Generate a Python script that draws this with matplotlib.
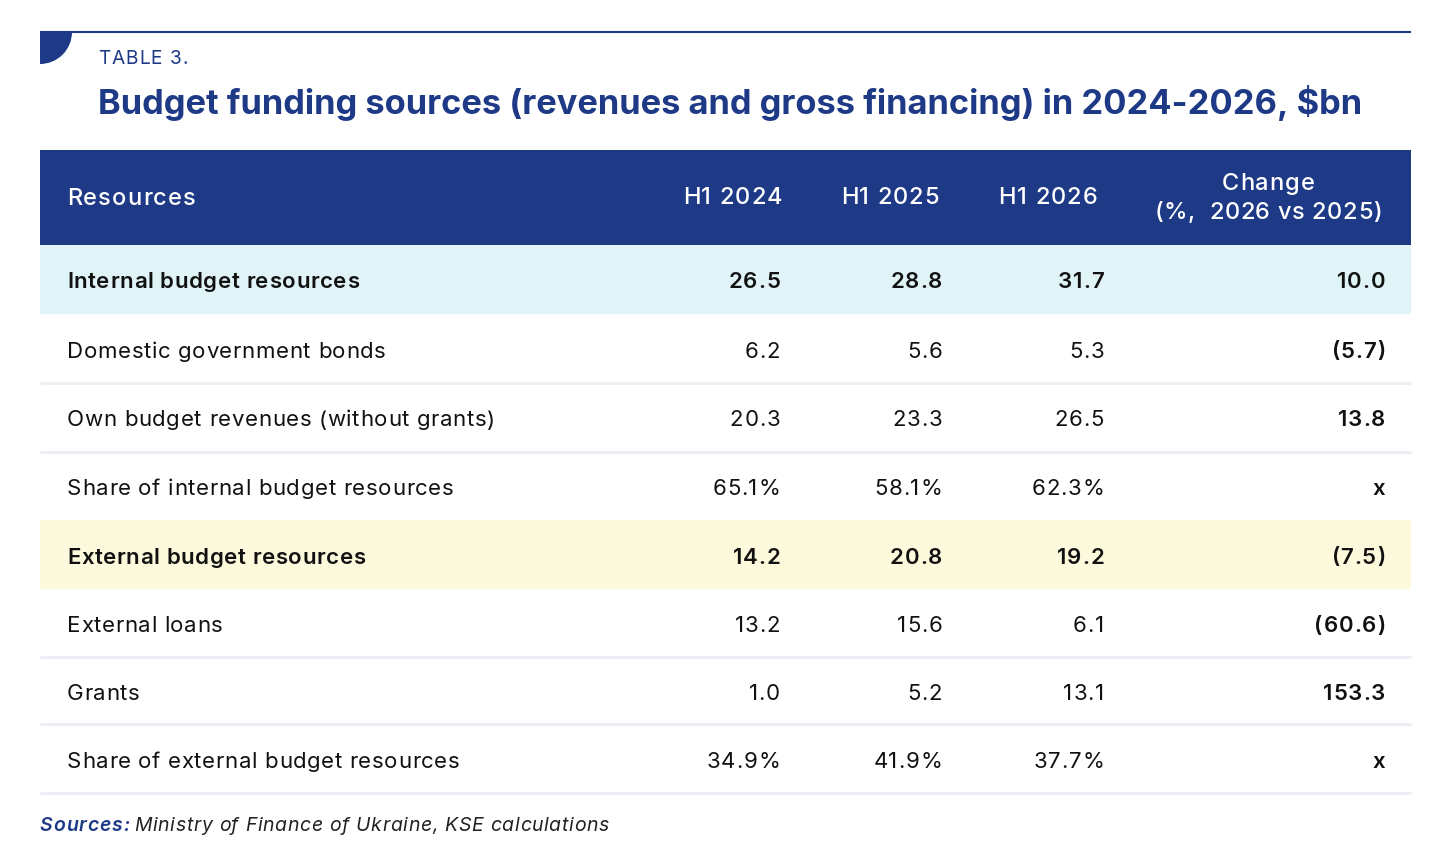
import matplotlib
matplotlib.use("Agg")
import matplotlib.pyplot as plt
from matplotlib.patches import Rectangle, Wedge

# table content
columns = ["H1 2024", "H1 2025", "H1 2026"]
change_header = ["Change", "(%,  2026 vs 2025)"]
row_labels = [
    "Internal budget resources",
    "Domestic government bonds",
    "Own budget revenues (without grants)",
    "Share of internal budget resources",
    "External budget resources",
    "External loans",
    "Grants",
    "Share of external budget resources",
]
h1_2024 = ["26.5", "6.2", "20.3", "65.1%", "14.2", "13.2", "1.0", "34.9%"]
h1_2025 = ["28.8", "5.6", "23.3", "58.1%", "20.8", "15.6", "5.2", "41.9%"]
h1_2026 = ["31.7", "5.3", "26.5", "62.3%", "19.2", "6.1", "13.1", "37.7%"]
change = ["10.0", "(5.7)", "13.8", "x", "(7.5)", "(60.6)", "153.3", "x"]
row_kind = ["internal", "plain", "plain", "plain", "external", "plain", "plain", "plain"]

NAVY = "#1e3a87"
BAND = {"internal": "#e0f4f8", "external": "#fdf9dc"}
SEP = "#eeeff5"
INK = "#111111"
FONT = "Inter"

W, H = 1440, 866
fig = plt.figure(figsize=(W / 100, H / 100), dpi=100)
ax = fig.add_axes([0, 0, 1, 1])
ax.set_xlim(0, W)
ax.set_ylim(H, 0)
ax.axis("off")
renderer = fig.canvas.get_renderer()


def text_width(s, **kw):
    t = ax.text(0, 0, s, **kw)
    w = t.get_window_extent(renderer).width
    t.remove()
    return w


def tracked(x, y, s, track=1.0, ha="left", **kw):
    """Draw text with extra letter spacing (pixels), baseline at y."""
    kw.setdefault("family", FONT)
    base = text_width("x", **kw)
    offs = [0.0] + [text_width(s[:i] + "x", **kw) - base for i in range(1, len(s))]
    total = text_width(s, **kw) + track * (len(s) - 1)
    if ha == "right":
        x0 = x - total
    elif ha == "center":
        x0 = x - total / 2
    else:
        x0 = x
    for i, ch in enumerate(s):
        if ch != " ":
            ax.text(x0 + offs[i] + track * i, y, ch, ha="left", va="baseline", **kw)


left, right = 40, 1411

# top rule and corner mark
ax.plot([left, right], [32, 32], color=NAVY, lw=1.5, solid_capstyle="butt")
ax.add_patch(Wedge((left, 32), 32, 0, 90, color=NAVY, lw=0))

tracked(98, 64, "TABLE 3.", track=1.0, fontsize=13.8, color=NAVY)
ax.text(98, 114, "Budget funding sources (revenues and gross financing) in 2024-2026, $bn",
        fontsize=24.8, color=NAVY, family=FONT, weight="bold", va="baseline", ha="left")

# header band
head_top, head_bot = 150, 245
ax.add_patch(Rectangle((left, head_top), right - left, head_bot - head_top,
                       facecolor=NAVY, lw=0))
col_right = [782, 939, 1097]
num_right = [780, 942, 1104]
change_right = 1385
hkw = dict(fontsize=17, color="white", weight="medium")
tracked(67, 205, "Resources", track=1.1, **hkw)
for x, c in zip(col_right, columns):
    tracked(x, 204, c, track=1.0, ha="right", **hkw)
tracked(1268, 190, change_header[0], track=1.0, ha="center", **hkw)
tracked(1268, 219, change_header[1], track=0.6, ha="center", **hkw)

# body rows
edges = [245, 314, 383, 452, 520, 589, 657, 724, 793]
for i, label in enumerate(row_labels):
    top, bot = edges[i], edges[i + 1]
    base_y = (top + bot) / 2 + 9
    kind = row_kind[i]
    nxt = row_kind[i + 1] if i + 1 < len(row_kind) else "plain"
    if kind in BAND:
        ax.add_patch(Rectangle((left, top), right - left, bot - top,
                               facecolor=BAND[kind], lw=0))
    elif nxt == "plain":
        ax.plot([left, right], [bot, bot], color=SEP, lw=2.2, solid_capstyle="butt")
    w = "semibold" if kind in BAND else "normal"
    bkw = dict(fontsize=16, color=INK, weight=w)
    tracked(67, base_y, label, track=0.6, **bkw)
    for x, vals in zip(num_right, [h1_2024, h1_2025, h1_2026]):
        tracked(x, base_y, vals[i], track=0.8, ha="right", **bkw)
    tracked(change_right, base_y, change[i], track=0.8, ha="right",
            fontsize=16, color=INK, weight="semibold")

# source note
tracked(40, 831, "Sources:", track=0.8, fontsize=14, color=NAVY,
        weight="semibold", style="italic")
tracked(134, 831, "Ministry of Finance of Ukraine, KSE calculations", track=0.65,
        fontsize=14, color="#222222", style="italic")

fig.savefig("out.png", dpi=100)
